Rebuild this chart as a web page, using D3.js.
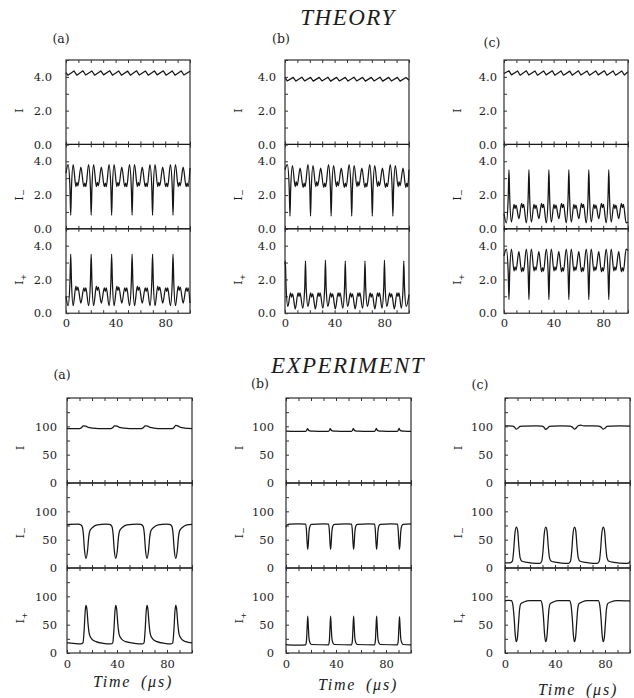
<!DOCTYPE html>
<html>
<head>
<meta charset="utf-8">
<script src="https://cdn.jsdelivr.net/npm/d3@7"></script>
<style>
  body { margin: 0; background: #fff; }
  svg text { fill: #1c1c1c; }
</style>
</head>
<body>
<div id="chart"></div>
<script>
////////////////////////////////////////////////////////////////////////
// Data: [time (us), intensity] pairs

// labels
let colLetters = ["(a)", "(b)", "(c)"];
let seriesSubs = ["", "\u2212", "+"];       // I, I-, I+
let theoryTicks = [0, 2, 4];
let expTicks = [0, 50, 100];
let timeTicks = [0, 40, 80];

// THEORY (a)
let thA_I = [[0,4.25],[1.5,4.1],[6.5,4.35],[8.7,4.1],[13.7,4.36],[15.9,4.11],[20.9,4.35],[23.1,4.1],[28.1,4.35],[30.3,4.12],[35.3,4.36],[37.5,4.1],[42.5,4.35],[44.7,4.1],[49.7,4.34],[51.9,4.1],[56.9,4.36],[59.1,4.11],[64.1,4.35],[66.3,4.1],[71.3,4.35],[73.5,4.12],[78.5,4.36],[80.7,4.1],[85.7,4.35],[87.9,4.1],[92.9,4.35],[95.1,4.11],[100,4.33]];
let thA_Im = [[0,3.3],[1.7,3.8],[3.2,2.4],
  [3.8,0.8],[4.4,2.4],[5.8,3.8],[8.0,2.5],[8.8,2.75],[9.6,2.55],[12.0,3.65],[14.4,2.5],[15.2,2.7],[16.0,2.5],[18.2,3.8],[19.7,2.4],
  [20.3,0.8],[20.9,2.4],[22.3,3.8],[24.5,2.5],[25.3,2.75],[26.1,2.55],[28.5,3.65],[30.9,2.5],[31.7,2.7],[32.5,2.5],[34.7,3.8],[36.2,2.4],
  [36.8,0.8],[37.4,2.4],[38.8,3.8],[41.0,2.5],[41.8,2.75],[42.6,2.55],[45.0,3.65],[47.4,2.5],[48.2,2.7],[49.0,2.5],[51.2,3.8],[52.7,2.4],
  [53.3,0.8],[53.9,2.4],[55.3,3.8],[57.5,2.5],[58.3,2.75],[59.1,2.55],[61.5,3.65],[63.9,2.5],[64.7,2.7],[65.5,2.5],[67.7,3.8],[69.2,2.4],
  [69.8,0.8],[70.4,2.4],[71.8,3.8],[74.0,2.5],[74.8,2.75],[75.6,2.55],[78.0,3.65],[80.4,2.5],[81.2,2.7],[82.0,2.5],[84.2,3.8],[85.7,2.4],
  [86.3,0.8],[86.9,2.4],[88.3,3.8],[90.5,2.5],[91.3,2.75],[92.1,2.55],[94.5,3.65],[96.9,2.5],[97.7,2.7],[98.5,2.5],[100,3.6]];
let thA_Ip = [[0,1.0],[1.7,0.45],[3.2,1.9],
  [3.8,3.5],[4.4,1.9],[5.8,0.45],[8.0,1.6],[8.8,1.35],[9.6,1.55],[12.0,0.6],[14.4,1.5],[15.2,1.3],[16.0,1.5],[18.2,0.45],[19.7,1.9],
  [20.3,3.5],[20.9,1.9],[22.3,0.45],[24.5,1.6],[25.3,1.35],[26.1,1.55],[28.5,0.6],[30.9,1.5],[31.7,1.3],[32.5,1.5],[34.7,0.45],[36.2,1.9],
  [36.8,3.5],[37.4,1.9],[38.8,0.45],[41.0,1.6],[41.8,1.35],[42.6,1.55],[45.0,0.6],[47.4,1.5],[48.2,1.3],[49.0,1.5],[51.2,0.45],[52.7,1.9],
  [53.3,3.5],[53.9,1.9],[55.3,0.45],[57.5,1.6],[58.3,1.35],[59.1,1.55],[61.5,0.6],[63.9,1.5],[64.7,1.3],[65.5,1.5],[67.7,0.45],[69.2,1.9],
  [69.8,3.5],[70.4,1.9],[71.8,0.45],[74.0,1.6],[74.8,1.35],[75.6,1.55],[78.0,0.6],[80.4,1.5],[81.2,1.3],[82.0,1.5],[84.2,0.45],[85.7,1.9],
  [86.3,3.5],[86.9,1.9],[88.3,0.45],[90.5,1.6],[91.3,1.35],[92.1,1.55],[94.5,0.6],[96.9,1.5],[97.7,1.3],[98.5,1.5],[100,0.6]];

// THEORY (b)
let thB_I = [[0,3.98],[1.8,3.76],[6.6,3.97],[8.8,3.75],[13.6,3.98],[15.8,3.76],[20.6,3.97],[22.8,3.75],[27.6,3.97],[29.8,3.76],[34.6,3.98],[36.8,3.75],[41.6,3.97],[43.8,3.76],[48.6,3.97],[50.8,3.75],[55.6,3.98],[57.8,3.76],[62.6,3.97],[64.8,3.75],[69.6,3.97],[71.8,3.76],[76.6,3.98],[78.8,3.75],[83.6,3.97],[85.8,3.76],[90.6,3.97],[92.8,3.75],[97.6,3.96],[100,3.8]];
let thB_Im = [[0,3.5],[1.9,3.8],[3.4,2.4],
  [4.0,0.75],[4.6,2.4],[6.0,3.75],[8.2,2.5],[9.0,2.8],[9.8,2.55],[12.2,3.6],[14.6,2.45],[15.4,2.7],[16.2,2.5],[18.5,3.8],[20.0,2.4],
  [20.6,0.75],[21.2,2.4],[22.6,3.75],[24.8,2.5],[25.6,2.8],[26.4,2.55],[28.8,3.6],[31.2,2.45],[32.0,2.7],[32.8,2.5],[35.1,3.8],[36.6,2.4],
  [37.2,0.75],[37.8,2.4],[39.2,3.75],[41.4,2.5],[42.2,2.8],[43.0,2.55],[45.4,3.6],[47.8,2.45],[48.6,2.7],[49.4,2.5],[51.7,3.8],[53.2,2.4],
  [53.8,0.75],[54.4,2.4],[55.8,3.75],[58.0,2.5],[58.8,2.8],[59.6,2.55],[62.0,3.6],[64.4,2.45],[65.2,2.7],[66.0,2.5],[68.3,3.8],[69.8,2.4],
  [70.4,0.75],[71.0,2.4],[72.4,3.75],[74.6,2.5],[75.4,2.8],[76.2,2.55],[78.6,3.6],[81.0,2.45],[81.8,2.7],[82.6,2.5],[84.9,3.8],[86.4,2.4],
  [87.0,0.75],[87.6,2.4],[89.0,3.75],[91.2,2.5],[92.0,2.8],[92.8,2.55],[95.2,3.6],[97.4,2.45],[98.2,2.7],[99.0,2.5],[100,3.5]];
let thB_Ip = [[0,2.9],[0.3,3.1],[0.9,1.5],[2.3,0.4],[4.5,1.2],[5.3,0.95],[6.1,1.15],[8.3,0.25],[10.5,1.2],[11.3,1.0],[12.1,1.2],[14.3,0.3],[15.9,1.5],
  [16.5,3.1],[17.1,1.5],[18.5,0.4],[20.7,1.2],[21.5,0.95],[22.3,1.15],[24.5,0.25],[26.7,1.2],[27.5,1.0],[28.3,1.2],[30.5,0.3],[32.0,1.5],
  [32.6,3.15],[33.2,1.5],[34.6,0.4],[36.8,1.2],[37.6,0.95],[38.4,1.15],[40.6,0.25],[42.8,1.2],[43.6,1.0],[44.4,1.2],[46.6,0.3],[48.0,1.5],
  [48.6,3.1],[49.2,1.5],[50.6,0.4],[52.8,1.2],[53.6,0.95],[54.4,1.15],[56.6,0.25],[58.8,1.2],[59.6,1.0],[60.4,1.2],[62.5,0.3],[63.9,1.5],
  [64.5,3.1],[65.1,1.5],[66.5,0.4],[68.7,1.2],[69.5,0.95],[70.3,1.15],[72.5,0.25],[74.6,1.2],[75.4,1.0],[76.2,1.2],[78.2,0.3],[79.6,1.5],
  [80.2,3.15],[80.8,1.5],[82.2,0.4],[84.4,1.2],[85.2,0.95],[86.0,1.15],[88.2,0.25],[90.3,1.2],[91.1,1.0],[91.9,1.2],[93.8,0.3],[95.2,1.5],
  [95.8,3.1],[96.4,1.5],[97.8,0.4],[100,1.1]];

// THEORY (c)
let thC_I = [[0,4.2],[4,4.36],[6,4.12],[11,4.35],[13,4.1],[18,4.36],[20,4.11],[25,4.35],[27,4.1],[32,4.35],[34,4.12],[39,4.36],[41,4.1],[46,4.35],[48,4.1],[53,4.34],[55,4.1],[60,4.36],[62,4.11],[67,4.35],[69,4.1],[74,4.35],[76,4.12],[81,4.36],[83,4.1],[88,4.35],[90,4.1],[95,4.35],[97,4.11],[100,4.3]];
let thC_Im = [[0,0.9],[1.9,0.35],[3.4,1.9],
  [4.0,3.5],[4.6,1.9],[6.0,0.4],[8.1,1.45],[8.9,1.2],[9.7,1.4],[12.0,0.6],[14.2,1.5],[15.0,1.25],[15.8,1.45],[18.0,0.35],[19.5,1.9],
  [20.1,3.5],[20.7,1.9],[22.1,0.4],[24.2,1.45],[25.0,1.2],[25.8,1.4],[28.1,0.6],[30.3,1.5],[31.1,1.25],[31.9,1.45],[34.1,0.35],[35.6,1.9],
  [36.2,3.5],[36.8,1.9],[38.2,0.4],[40.3,1.45],[41.1,1.2],[41.9,1.4],[44.2,0.6],[46.4,1.5],[47.2,1.25],[48.0,1.45],[50.2,0.35],[51.7,1.9],
  [52.3,3.5],[52.9,1.9],[54.3,0.4],[56.4,1.45],[57.2,1.2],[58.0,1.4],[60.3,0.6],[62.5,1.5],[63.3,1.25],[64.1,1.45],[66.3,0.35],[67.8,1.9],
  [68.4,3.5],[69.0,1.9],[70.4,0.4],[72.5,1.45],[73.3,1.2],[74.1,1.4],[76.4,0.6],[78.6,1.5],[79.4,1.25],[80.2,1.45],[82.4,0.35],[83.9,1.9],
  [84.5,3.5],[85.1,1.9],[86.5,0.4],[88.6,1.45],[89.4,1.2],[90.2,1.4],[92.5,0.6],[94.7,1.5],[95.5,1.25],[96.3,1.45],[98.5,0.35],[100,0.4]];
let thC_Ip = [[0,3.4],[1.9,3.8],[3.4,2.4],
  [4.0,0.8],[4.6,2.4],[6.0,3.8],[8.1,2.5],[8.9,2.75],[9.7,2.55],[12.0,3.65],[14.2,2.45],[15.0,2.7],[15.8,2.5],[18.0,3.8],[19.5,2.4],
  [20.1,0.8],[20.7,2.4],[22.1,3.8],[24.2,2.5],[25.0,2.75],[25.8,2.55],[28.1,3.65],[30.3,2.45],[31.1,2.7],[31.9,2.5],[34.1,3.8],[35.6,2.4],
  [36.2,0.8],[36.8,2.4],[38.2,3.8],[40.3,2.5],[41.1,2.75],[41.9,2.55],[44.2,3.65],[46.4,2.45],[47.2,2.7],[48.0,2.5],[50.2,3.8],[51.7,2.4],
  [52.3,0.8],[52.9,2.4],[54.3,3.8],[56.4,2.5],[57.2,2.75],[58.0,2.55],[60.3,3.65],[62.5,2.45],[63.3,2.7],[64.1,2.5],[66.3,3.8],[67.8,2.4],
  [68.4,0.8],[69.0,2.4],[70.4,3.8],[72.5,2.5],[73.3,2.75],[74.1,2.55],[76.4,3.65],[78.6,2.45],[79.4,2.7],[80.2,2.5],[82.4,3.8],[83.9,2.4],
  [84.5,0.8],[85.1,2.4],[86.5,3.8],[88.6,2.5],[89.4,2.75],[90.2,2.55],[92.5,3.65],[94.7,2.45],[95.5,2.7],[96.3,2.5],[98.5,3.8],[100,3.7]];

// EXPERIMENT (a)
let exA_I = [[0,96],[10,96],[11.5,97.5],[13,101],[15,100.5],[17,98],[20,97],[25,96],[35,96],[36.5,97.5],[38,101],[40,100.5],[42,98],[45,97],[50,96],[59.5,96],[61,97.5],[62.5,101],[64.5,100.5],[66.5,98],[69.5,97],[75,96],[84,96],[85.5,97.5],[87,101.5],[89,100.5],[91,98],[94,97],[100,96]];
let exA_Im = [[0,76],[2,77],[9,77.5],[10.2,77],[12,74],[13,62],[14,32],[15.2,17],[16.4,30],[17.4,55],[18.4,66],[20.7,72],[24.2,76],[31,77.5],
  [34,77],[35.8,74],[36.8,62],[37.8,32],[39,17],[40.2,30],[41.2,55],[42.2,66],[44.5,72],[48,76],[56,77.5],
  [59,77],[60.8,74],[61.8,62],[62.8,32],[64,17],[65.2,30],[66.2,55],[67.2,66],[69.5,72],[73,76],[79,77.5],
  [82,77],[83.8,74],[84.8,62],[85.8,32],[87,17],[88.2,30],[89.2,55],[90.2,66],[92.5,72],[96,76],[100,77]];
let exA_Ip = [[0,18],[5,17],[11,16],[12.8,18],[13.7,40],[14.6,75],[15.2,84],[15.9,78],[16.9,50],[17.9,33],[19.7,25],[23.2,20],[29,17],
  [35,16],[36.6,18],[37.5,40],[38.4,75],[39,84],[39.7,78],[40.7,50],[41.7,33],[43.5,25],[47,20],[54,17],
  [60,16],[61.6,18],[62.5,40],[63.4,75],[64,84],[64.7,78],[65.7,50],[66.7,33],[68.5,25],[72,20],[78,17],
  [83,16],[84.6,18],[85.5,40],[86.4,75],[87,84],[87.7,78],[88.7,50],[89.7,33],[91.5,25],[95,20],[100,18]];

// EXPERIMENT (b)
let exB_I = [[0,91.5],[8,91],[15.8,91],[16.6,93],[17.2,96],[17.9,93.5],[19,92],[22,91.5],[30,91],[34,91],[34.8,93],[35.4,96],[36.1,93.5],[37.2,92],[40,91.5],[48,91],[52.4,91],[53.2,93],[53.8,96],[54.5,93.5],[55.6,92],[58,91.5],[66,91],[70.8,91],[71.6,93],[72.2,96.5],[72.9,93.5],[74,92],[77,91.5],[84,91],[89,91],[89.8,93],[90.4,96.5],[91.1,93.5],[92.2,92],[95,91.5],[100,91]];
let exB_Im = [[0,72],[0.8,76],[3,77.5],[10,78],[15.8,77.5],[16.4,65],[16.9,45],[17.4,33],[17.9,45],[18.4,64],[19.2,74],[20.4,77],[30,78],
  [34.1,77.5],[34.7,65],[35.2,45],[35.7,33],[36.2,45],[36.7,64],[37.5,74],[38.7,77],[48,78],
  [52.5,77.5],[53.1,65],[53.6,45],[54.1,33],[54.6,45],[55.1,64],[55.9,74],[57.1,77],[66,78],
  [70.9,77.5],[71.5,65],[72.0,45],[72.5,33],[73.0,45],[73.5,64],[74.3,74],[75.5,77],[84,78],
  [89.2,77.5],[89.8,65],[90.3,45],[90.8,33],[91.3,45],[91.8,64],[92.6,74],[93.8,77],[100,78]];
let exB_Ip = [[0,16],[1,14.5],[10,14],[15.8,14.5],[16.4,22],[16.9,45],[17.4,65],[17.9,45],[18.4,26],[19.2,18],[20.4,15],
  [34.1,14.5],[34.7,22],[35.2,45],[35.7,65],[36.2,45],[36.7,26],[37.5,18],[38.7,15],
  [52.5,14.5],[53.1,22],[53.6,45],[54.1,65],[54.6,45],[55.1,26],[55.9,18],[57.1,15],
  [70.9,14.5],[71.5,22],[72.0,45],[72.5,65],[73.0,45],[73.5,26],[74.3,18],[75.5,15],
  [89.2,14.5],[89.8,22],[90.3,45],[90.8,64],[91.3,45],[91.8,26],[92.6,18],[93.8,15],[100,14.5]];

// EXPERIMENT (c)
let exC_I = [[0,101],[6,100.5],[7.5,99],[9,95],[10.5,97],[12,100],[15,100.5],[25,101],[29.5,100.5],[31,99],[32.6,94.5],[34.1,97],[35.6,100],[39,100.5],[45,101],[52,100.5],[53.6,99],[55.6,95],[57.1,97.5],[58.6,101],[60.6,102],[63,101],[70,101],[75,100.5],[76.6,99],[78.6,95],[80.1,97],[81.6,100],[85,100.5],[92,101],[100,100.5]];
let exC_Im = [[0,9],[4,9],[5.9,12],[6.9,30],[7.9,60],[9.1,72],[10.1,66],[11.1,38],[12.1,18],[13.6,12],[17.6,10],[25,8],
  [27.6,8],[29.4,12],[30.4,30],[31.4,60],[32.6,72],[33.6,66],[34.6,38],[35.6,18],[37.1,12],[41.1,10],[48,8],
  [50.6,8],[52.4,12],[53.4,30],[54.4,60],[55.6,72],[56.6,66],[57.6,38],[58.6,18],[60.1,12],[64.1,10],[71,8],
  [73.6,8],[75.4,12],[76.4,30],[77.4,60],[78.6,72],[79.6,66],[80.6,38],[81.6,18],[83.1,12],[87.1,10],[96,8],[98.8,8.5],[100,12]];
let exC_Ip = [[0,92],[2,93],[5.1,92.5],[6.3,85],[7.3,62],[8.2,32],[9.1,20],[10,28],[10.9,55],[11.7,78],[12.7,87],[15.1,90],[20,92.5],
  [28.6,92.5],[29.8,85],[30.8,62],[31.7,32],[32.6,20],[33.5,28],[34.4,55],[35.2,78],[36.2,87],[38.6,90],[43,92.5],
  [51.6,92.5],[52.8,85],[53.8,62],[54.7,32],[55.6,20],[56.5,28],[57.4,55],[58.2,78],[59.2,87],[61.6,90],[66,92.5],
  [74.6,92.5],[75.8,85],[76.8,62],[77.7,32],[78.6,20],[79.5,28],[80.4,55],[81.2,78],[82.2,87],[84.6,90],[90,92.5],[100,92]];


////////////////////////////////////////////////////////////////////////
// Layout

let width = 634;
let height = 698;

let svg = d3.select("#chart")
  .append("svg")
  .attr("width", width).attr("height", height);

let tickFont = "DejaVu Serif, serif";
let titleFont = "Liberation Serif, Times New Roman, serif";

// one block per figure half
let blocks = [
  {
    title: "THEORY", titleY: 25,
    top: 60, panelH: 84.4, yMax: 5,
    yLabels: theoryTicks, yMinor: [0, 1, 2, 3, 4, 5], fmt: d3.format(".1f"),
    lefts: [66, 285, 504], plotW: 124,
    letters: [[61, 43], [281, 43], [492, 47]],
    nameAt: 2.0, xPad: 6,
    series: [[thA_I, thA_Im, thA_Ip], [thB_I, thB_Im, thB_Ip], [thC_I, thC_Im, thC_Ip]],
    sawtooth: true,
    timeLabels: null
  },
  {
    title: "EXPERIMENT", titleY: 373,
    top: 398, panelH: 85, yMax: 150,
    yLabels: expTicks, yMinor: [0, 25, 50, 75, 100, 125, 150], fmt: d3.format("d"),
    lefts: [67, 286, 505], plotW: 125,
    letters: [[62, 379], [260, 388], [480, 389]],
    nameAt: 62, xPad: 7,
    series: [[exA_I, exA_Im, exA_Ip], [exB_I, exB_Im, exB_Ip], [exC_I, exC_Im, exC_Ip]],
    sawtooth: false,
    timeLabels: [[133, 687], [358, 690], [578, 695]]
  }
];

let labelGap = [[14, 9, 7], [10, 12, 12]];


////////////////////////////////////////////////////////////////////////
// Drawing

blocks.forEach(function(b, bi) {

  svg.append("text")
    .attr("x", 348).attr("y", b.titleY)
    .attr("text-anchor", "middle")
    .style("font-family", titleFont)
    .style("font-style", "italic")
    .style("font-size", "23px")
    .style("letter-spacing", "1.5px")
    .text(b.title);

  b.lefts.forEach(function(left, ci) {
    let x = d3.scaleLinear().domain([0, 100]).range([left, left + b.plotW]);

    // panel letter
    svg.append("text")
      .attr("x", b.letters[ci][0]).attr("y", b.letters[ci][1])
      .attr("text-anchor", "middle")
      .style("font-family", tickFont)
      .style("font-size", "12.5px")
      .text(colLetters[ci]);

    b.series[ci].forEach(function(data, ri) {
      let top = b.top + ri * b.panelH;
      let bottom = top + b.panelH;
      let y = d3.scaleLinear().domain([0, b.yMax]).range([bottom, top]);
      let g = svg.append("g");

      // curve
      let line = d3.line()
        .x(function(d) { return x(d[0]); })
        .y(function(d) { return y(d[1]); })
        .curve((ri === 0 && b.sawtooth) ? d3.curveLinear : d3.curveMonotoneX);

      g.append("path")
        .datum(data)
        .attr("d", line)
        .attr("fill", "none")
        .attr("stroke", "#161616")
        .attr("stroke-width", 1.25)
        .attr("stroke-linejoin", "round");

      // frame
      g.append("rect")
        .attr("x", left).attr("y", top)
        .attr("width", b.plotW).attr("height", b.panelH)
        .attr("fill", "none")
        .attr("stroke", "#1a1a1a")
        .attr("stroke-width", 1.1);

      // y axis, ticks pointing in
      let yAxis = d3.axisLeft(y)
        .tickValues(b.yMinor)
        .tickSizeInner(-3).tickSizeOuter(0)
        .tickPadding(labelGap[bi][ci])
        .tickFormat(function(v) { return b.yLabels.indexOf(v) >= 0 ? b.fmt(v) : ""; });
      let ya = g.append("g").attr("transform", "translate(" + left + ",0)").call(yAxis);
      ya.select(".domain").remove();
      ya.selectAll("text").style("font-family", tickFont).style("font-size", "11.5px").attr("fill", "#1c1c1c");
      ya.selectAll("line").attr("stroke", "#333");

      // bottom ticks (labels on the lowest panel only)
      let xAxis = d3.axisBottom(x)
        .tickValues(d3.range(0, 101, 10))
        .tickSizeInner(-3).tickSizeOuter(0)
        .tickPadding(b.xPad)
        .tickFormat(function(v) { return (ri === 2 && timeTicks.indexOf(v) >= 0) ? v : ""; });
      let xa = g.append("g").attr("transform", "translate(0," + bottom + ")").call(xAxis);
      xa.select(".domain").remove();
      xa.selectAll("text").style("font-family", tickFont).style("font-size", "11.5px").attr("fill", "#1c1c1c");
      xa.selectAll("line").attr("stroke", "#333");

      // top ticks
      let xTop = d3.axisTop(x)
        .tickValues(d3.range(0, 101, 10))
        .tickSizeInner(-3).tickSizeOuter(0)
        .tickFormat("");
      let xt = g.append("g").attr("transform", "translate(0," + top + ")").call(xTop);
      xt.select(".domain").remove();
      xt.selectAll("line").attr("stroke", "#333");

      // series name, rotated
      let cx = left - 47;
      let cy = y(b.nameAt);
      let t = g.append("text")
        .attr("transform", "translate(" + (cx + 4) + "," + cy + ") rotate(-90)")
        .attr("text-anchor", "middle")
        .style("font-family", tickFont)
        .style("font-size", "11.5px");
      t.append("tspan").text("I");
      if (seriesSubs[ri] !== "") {
        t.append("tspan")
          .attr("dy", 3)
          .style("font-size", "8px")
          .text(seriesSubs[ri]);
      }
    });

    if (b.timeLabels) {
      svg.append("text")
        .attr("x", b.timeLabels[ci][0]).attr("y", b.timeLabels[ci][1])
        .attr("text-anchor", "middle")
        .style("font-family", titleFont)
        .style("font-style", "italic")
        .style("font-size", "16px")
        .style("letter-spacing", "1.8px")
        .style("word-spacing", "4px")
        .text("Time (\u03bcs)");
    }
  });
});
</script>
</body>
</html>
